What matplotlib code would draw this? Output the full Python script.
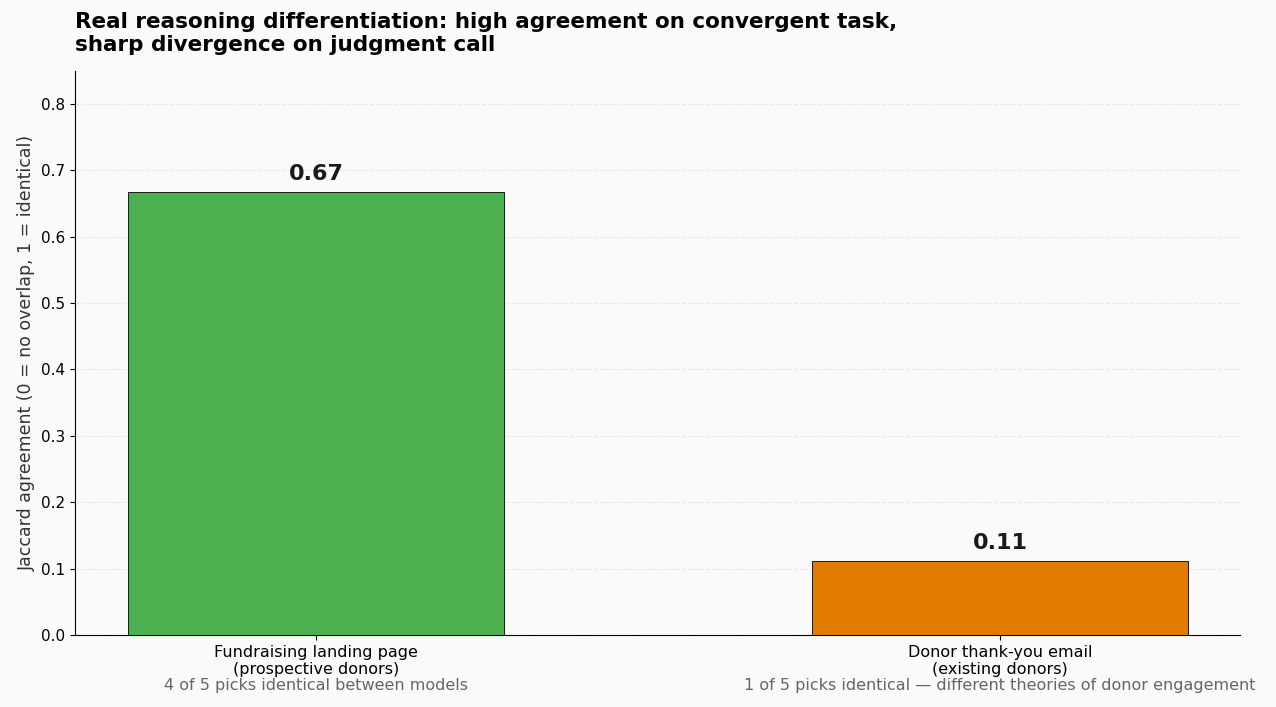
import numpy as np
import matplotlib.pyplot as plt

categories = ["Fundraising landing page\n(prospective donors)", "Donor thank-you email\n(existing donors)"]
jaccard = [0.667, 0.111]
value_labels = ["0.67", "0.11"]
notes = ["4 of 5 picks identical between models",
         "1 of 5 picks identical \u2014 different theories of donor engagement"]
colors = ["#4CAF50", "#E07B00"]

fig, ax = plt.subplots(figsize=(12.76, 7.07), dpi=100)
fig.patch.set_facecolor("#FAFAFA")
ax.set_facecolor("#FAFAFA")
fig.subplots_adjust(left=0.059, right=0.972, top=0.90, bottom=0.102)

x = np.arange(len(categories))
ax.bar(x, jaccard, width=0.55, color=colors, edgecolor="#1a1a1a", linewidth=0.7, zorder=3)
for xi, v, lab in zip(x, jaccard, value_labels):
    ax.text(xi, v + 0.012, lab, ha="center", va="bottom", fontsize=16, fontweight="bold", color="#1a1a1a")
for xi, n in zip(x, notes):
    ax.annotate(n, xy=(xi, 0), xycoords=("data", "axes fraction"), xytext=(0, -31),
                textcoords="offset points", ha="center", va="top", fontsize=11.5, color="#666666")

ax.set_xticks(x)
ax.set_xticklabels(categories, fontsize=11.5)
ax.set_xlim(-0.352, 1.351)
ax.set_ylim(0, 0.85)
ax.set_yticks(np.arange(0, 0.81, 0.1))
ax.set_yticklabels([f"{t:.1f}" for t in np.arange(0, 0.81, 0.1)], fontsize=11)
ax.set_ylabel("Jaccard agreement (0 = no overlap, 1 = identical)", fontsize=12.5, color="#333333")
ax.yaxis.grid(True, linestyle="--", color="#dddddd", alpha=0.6, zorder=0)
ax.spines["top"].set_visible(False)
ax.spines["right"].set_visible(False)
ax.set_title("Real reasoning differentiation: high agreement on convergent task,\nsharp divergence on judgment call",
             loc="left", fontsize=15.5, fontweight="bold", pad=14)

fig.savefig("out.png", dpi=100, facecolor=fig.get_facecolor())
